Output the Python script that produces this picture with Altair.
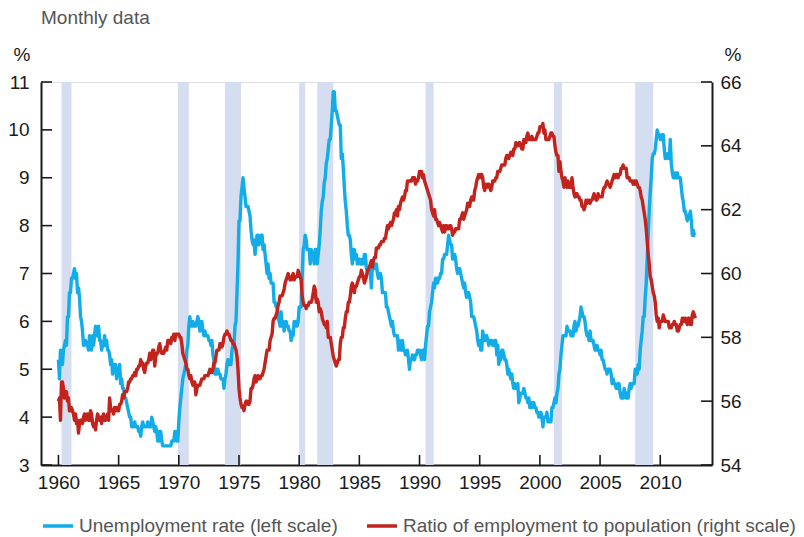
import altair as alt
import pandas as pd

years = list(range(1960, 2013))

# Unemployment rate, monthly, % (left scale)
unemp = [
    5.2, 4.8, 5.4, 5.2, 5.1, 5.4, 5.5, 5.6, 5.5, 6.1, 6.1, 6.6,   # 1960
    6.6, 6.9, 6.9, 7.0, 7.1, 6.9, 7.0, 6.6, 6.7, 6.5, 6.1, 6.0,   # 1961
    5.8, 5.5, 5.6, 5.6, 5.5, 5.5, 5.4, 5.7, 5.6, 5.4, 5.7, 5.5,   # 1962
    5.7, 5.9, 5.7, 5.7, 5.9, 5.6, 5.6, 5.4, 5.5, 5.5, 5.7, 5.5,   # 1963
    5.6, 5.4, 5.4, 5.3, 5.1, 5.2, 4.9, 5.0, 5.1, 5.1, 4.8, 5.0,   # 1964
    4.9, 5.1, 4.7, 4.8, 4.6, 4.6, 4.4, 4.4, 4.3, 4.2, 4.1, 4.0,   # 1965
    4.0, 3.8, 3.8, 3.8, 3.9, 3.8, 3.8, 3.8, 3.7, 3.7, 3.6, 3.8,   # 1966
    3.9, 3.8, 3.8, 3.8, 3.8, 3.9, 3.8, 3.8, 3.8, 4.0, 3.9, 3.8,   # 1967
    3.7, 3.8, 3.7, 3.5, 3.5, 3.7, 3.7, 3.5, 3.4, 3.4, 3.4, 3.4,   # 1968
    3.4, 3.4, 3.4, 3.4, 3.4, 3.5, 3.5, 3.5, 3.7, 3.7, 3.5, 3.5,   # 1969
    3.9, 4.2, 4.4, 4.6, 4.8, 4.9, 5.0, 5.1, 5.4, 5.5, 5.9, 6.1,   # 1970
    5.9, 5.9, 6.0, 5.9, 5.9, 5.9, 6.0, 6.1, 6.0, 5.8, 6.0, 6.0,   # 1971
    5.8, 5.7, 5.8, 5.7, 5.7, 5.7, 5.6, 5.6, 5.5, 5.6, 5.3, 5.2,   # 1972
    4.9, 5.0, 4.9, 5.0, 4.9, 4.9, 4.8, 4.8, 4.8, 4.6, 4.8, 4.9,   # 1973
    5.1, 5.2, 5.1, 5.1, 5.1, 5.4, 5.5, 5.5, 5.9, 6.0, 6.6, 7.2,   # 1974
    8.1, 8.1, 8.6, 8.8, 9.0, 8.8, 8.6, 8.4, 8.4, 8.4, 8.3, 8.2,   # 1975
    7.9, 7.7, 7.6, 7.7, 7.4, 7.6, 7.8, 7.8, 7.6, 7.7, 7.8, 7.8,   # 1976
    7.5, 7.6, 7.4, 7.2, 7.0, 7.2, 6.9, 7.0, 6.8, 6.8, 6.8, 6.4,   # 1977
    6.4, 6.3, 6.3, 6.1, 6.0, 5.9, 6.2, 5.9, 6.0, 5.8, 5.9, 6.0,   # 1978
    5.9, 5.9, 5.8, 5.8, 5.6, 5.7, 5.7, 6.0, 5.9, 6.0, 5.9, 6.0,   # 1979
    6.3, 6.3, 6.3, 6.9, 7.5, 7.6, 7.8, 7.7, 7.5, 7.5, 7.5, 7.2,   # 1980
    7.5, 7.4, 7.4, 7.2, 7.5, 7.5, 7.2, 7.4, 7.6, 7.9, 8.3, 8.5,   # 1981
    8.6, 8.9, 9.0, 9.3, 9.4, 9.6, 9.8, 9.8, 10.1, 10.4, 10.8, 10.8,  # 1982
    10.4, 10.4, 10.3, 10.2, 10.1, 10.1, 9.4, 9.5, 9.2, 8.8, 8.5, 8.3,  # 1983
    8.0, 7.8, 7.8, 7.7, 7.4, 7.2, 7.5, 7.5, 7.3, 7.4, 7.2, 7.3,   # 1984
    7.3, 7.2, 7.2, 7.3, 7.2, 7.4, 7.4, 7.1, 7.1, 7.1, 7.0, 7.0,   # 1985
    6.7, 7.2, 7.2, 7.1, 7.2, 7.2, 7.0, 6.9, 7.0, 7.0, 6.9, 6.6,   # 1986
    6.6, 6.6, 6.6, 6.3, 6.3, 6.2, 6.1, 6.0, 5.9, 6.0, 5.8, 5.7,   # 1987
    5.7, 5.7, 5.7, 5.4, 5.6, 5.4, 5.4, 5.6, 5.4, 5.4, 5.3, 5.3,   # 1988
    5.4, 5.2, 5.0, 5.2, 5.2, 5.3, 5.2, 5.2, 5.3, 5.3, 5.4, 5.4,   # 1989
    5.4, 5.3, 5.2, 5.4, 5.4, 5.2, 5.5, 5.7, 5.9, 5.9, 6.2, 6.3,   # 1990
    6.4, 6.6, 6.8, 6.7, 6.9, 6.9, 6.8, 6.9, 6.9, 7.0, 7.0, 7.3,   # 1991
    7.3, 7.4, 7.4, 7.4, 7.6, 7.8, 7.7, 7.6, 7.6, 7.3, 7.4, 7.4,   # 1992
    7.3, 7.1, 7.0, 7.1, 7.1, 7.0, 6.9, 6.8, 6.7, 6.8, 6.6, 6.5,   # 1993
    6.6, 6.6, 6.5, 6.4, 6.1, 6.1, 6.1, 6.0, 5.9, 5.8, 5.6, 5.5,   # 1994
    5.6, 5.4, 5.4, 5.8, 5.6, 5.6, 5.7, 5.7, 5.6, 5.5, 5.6, 5.6,   # 1995
    5.6, 5.5, 5.5, 5.6, 5.6, 5.3, 5.5, 5.1, 5.2, 5.2, 5.4, 5.4,   # 1996
    5.3, 5.2, 5.2, 5.1, 4.9, 5.0, 4.9, 4.8, 4.9, 4.7, 4.6, 4.7,   # 1997
    4.6, 4.6, 4.7, 4.3, 4.4, 4.5, 4.5, 4.5, 4.6, 4.5, 4.4, 4.4,   # 1998
    4.3, 4.4, 4.2, 4.3, 4.2, 4.3, 4.3, 4.2, 4.2, 4.1, 4.1, 4.0,   # 1999
    4.0, 4.1, 4.0, 3.8, 4.0, 4.0, 4.0, 4.1, 3.9, 3.9, 3.9, 3.9,   # 2000
    4.2, 4.2, 4.3, 4.4, 4.3, 4.5, 4.6, 4.9, 5.0, 5.3, 5.5, 5.7,   # 2001
    5.7, 5.7, 5.7, 5.9, 5.8, 5.8, 5.8, 5.7, 5.7, 5.7, 5.9, 6.0,   # 2002
    5.8, 5.9, 5.9, 6.0, 6.1, 6.3, 6.2, 6.1, 6.1, 6.0, 5.8, 5.7,   # 2003
    5.7, 5.6, 5.8, 5.6, 5.6, 5.6, 5.5, 5.4, 5.4, 5.5, 5.4, 5.4,   # 2004
    5.3, 5.4, 5.2, 5.2, 5.1, 5.0, 5.0, 4.9, 5.0, 5.0, 5.0, 4.9,   # 2005
    4.7, 4.8, 4.7, 4.7, 4.6, 4.6, 4.7, 4.7, 4.5, 4.4, 4.5, 4.4,   # 2006
    4.6, 4.5, 4.4, 4.5, 4.4, 4.6, 4.7, 4.6, 4.7, 4.7, 4.7, 5.0,   # 2007
    5.0, 4.9, 5.1, 5.0, 5.4, 5.6, 5.8, 6.1, 6.1, 6.5, 6.8, 7.3,   # 2008
    7.8, 8.3, 8.7, 9.0, 9.4, 9.5, 9.5, 9.6, 9.8, 10.0, 9.9, 9.9,  # 2009
    9.8, 9.8, 9.9, 9.9, 9.6, 9.4, 9.4, 9.5, 9.5, 9.4, 9.8, 9.3,   # 2010
    9.1, 9.0, 9.0, 9.1, 9.0, 9.1, 9.0, 9.0, 9.0, 8.8, 8.6, 8.5,   # 2011
    8.3, 8.3, 8.2, 8.1, 8.2, 8.2, 8.3, 8.1, 7.8, 7.9, 7.8, 7.8,   # 2012
]

# Employment-to-population ratio, monthly, % (right scale)
emp = [
    56.0, 56.1, 55.4, 56.6, 56.6, 56.4, 56.1, 56.3, 56.3, 56.0, 56.1, 55.7,  # 1960
    55.7, 55.8, 55.7, 55.6, 55.4, 55.6, 55.3, 55.4, 55.0, 55.3, 55.4, 55.4,  # 1961
    55.3, 55.5, 55.6, 55.4, 55.5, 55.6, 55.4, 55.4, 55.7, 55.6, 55.3, 55.2,  # 1962
    55.3, 55.1, 55.4, 55.6, 55.5, 55.4, 55.5, 55.3, 55.5, 55.6, 55.4, 55.4,  # 1963
    55.5, 55.6, 55.4, 56.1, 55.8, 55.7, 55.7, 55.6, 55.8, 55.7, 55.8, 55.7,  # 1964
    55.7, 55.9, 55.9, 56.0, 56.2, 56.1, 56.3, 56.3, 56.3, 56.4, 56.6, 56.6,  # 1965
    56.7, 56.7, 56.8, 56.8, 56.9, 56.8, 57.0, 57.0, 57.1, 57.1, 57.3, 57.2,  # 1966
    57.2, 57.0, 56.9, 57.1, 57.2, 57.2, 57.3, 57.5, 57.3, 57.4, 57.6, 57.6,  # 1967
    57.1, 57.4, 57.5, 57.5, 57.7, 57.8, 57.6, 57.5, 57.5, 57.5, 57.6, 57.7,  # 1968
    57.6, 57.9, 57.9, 57.9, 57.8, 58.0, 58.0, 58.1, 57.9, 58.1, 58.1, 58.1,  # 1969
    58.1, 58.0, 58.0, 57.8, 57.5, 57.4, 57.3, 57.2, 57.0, 57.0, 56.8, 56.7,  # 1970
    56.8, 56.6, 56.5, 56.6, 56.6, 56.2, 56.4, 56.5, 56.5, 56.5, 56.6, 56.7,  # 1971
    56.7, 56.7, 56.8, 56.8, 56.8, 56.8, 56.9, 57.0, 56.9, 56.9, 57.0, 57.2,  # 1972
    57.2, 57.4, 57.6, 57.6, 57.6, 57.8, 57.8, 57.7, 57.8, 58.0, 58.1, 58.1,  # 1973
    58.2, 58.1, 58.1, 58.0, 57.9, 57.9, 57.8, 57.8, 57.7, 57.6, 57.4, 57.0,  # 1974
    56.4, 56.1, 55.9, 55.8, 55.8, 55.7, 55.9, 56.0, 56.0, 55.9, 55.9, 56.0,  # 1975
    56.4, 56.4, 56.5, 56.7, 56.8, 56.6, 56.7, 56.8, 56.7, 56.7, 56.8, 56.8,  # 1976
    56.9, 57.0, 57.2, 57.4, 57.6, 57.6, 57.6, 57.9, 58.0, 58.1, 58.5, 58.6,  # 1977
    58.6, 58.7, 58.8, 59.0, 59.1, 59.3, 59.3, 59.3, 59.4, 59.5, 59.7, 59.8,  # 1978
    59.9, 60.0, 59.9, 59.8, 59.8, 59.9, 60.0, 59.8, 59.9, 59.9, 59.9, 60.1,  # 1979
    60.0, 59.9, 59.8, 59.3, 59.1, 59.0, 59.0, 58.9, 59.0, 59.0, 59.1, 59.1,  # 1980
    59.1, 59.2, 59.4, 59.6, 59.5, 59.1, 59.2, 59.1, 58.8, 58.9, 58.8, 58.6,  # 1981
    58.5, 58.4, 58.4, 58.3, 58.5, 58.0, 58.0, 58.0, 57.8, 57.6, 57.4, 57.3,  # 1982
    57.2, 57.1, 57.2, 57.3, 57.3, 57.8, 58.0, 58.0, 58.3, 58.3, 58.6, 58.8,  # 1983
    58.8, 59.1, 59.1, 59.3, 59.6, 59.7, 59.6, 59.4, 59.6, 59.6, 59.7, 59.8,  # 1984
    59.9, 59.9, 60.1, 60.0, 59.9, 59.7, 59.8, 59.9, 60.1, 60.1, 60.2, 60.3,  # 1985
    60.4, 60.2, 60.4, 60.5, 60.5, 60.8, 60.8, 60.8, 60.9, 60.9, 61.0, 61.0,  # 1986
    61.0, 61.1, 61.1, 61.3, 61.5, 61.4, 61.5, 61.6, 61.5, 61.6, 61.7, 61.9,  # 1987
    61.9, 62.0, 61.8, 62.1, 62.0, 62.2, 62.3, 62.4, 62.3, 62.4, 62.6, 62.6,  # 1988
    62.9, 62.9, 62.9, 62.9, 62.9, 63.0, 63.0, 63.0, 62.8, 62.9, 62.9, 63.0,  # 1989
    63.2, 63.2, 63.2, 63.0, 63.1, 62.9, 62.8, 62.7, 62.6, 62.5, 62.4, 62.3,  # 1990
    62.0, 61.9, 61.8, 62.0, 61.7, 61.7, 61.6, 61.5, 61.6, 61.5, 61.4, 61.3,  # 1991
    61.5, 61.3, 61.5, 61.5, 61.4, 61.4, 61.5, 61.5, 61.4, 61.2, 61.3, 61.3,  # 1992
    61.4, 61.4, 61.4, 61.4, 61.7, 61.7, 61.8, 61.9, 61.7, 61.8, 61.9, 62.0,  # 1993
    62.2, 62.1, 62.1, 62.3, 62.4, 62.3, 62.3, 62.6, 62.7, 62.9, 63.0, 63.1,  # 1994
    63.0, 63.1, 63.1, 63.0, 62.7, 62.6, 62.8, 62.7, 62.8, 62.8, 62.7, 62.6,  # 1995
    62.7, 62.9, 62.9, 62.9, 63.0, 63.0, 63.2, 63.2, 63.2, 63.3, 63.4, 63.4,  # 1996
    63.4, 63.4, 63.6, 63.7, 63.7, 63.6, 63.7, 63.8, 63.8, 63.7, 63.9, 63.9,  # 1997
    64.1, 64.0, 64.0, 64.1, 64.1, 64.0, 63.9, 63.9, 64.2, 64.1, 64.1, 64.3,  # 1998
    64.4, 64.2, 64.2, 64.2, 64.3, 64.2, 64.2, 64.2, 64.2, 64.3, 64.4, 64.4,  # 1999
    64.6, 64.6, 64.6, 64.7, 64.4, 64.5, 64.2, 64.2, 64.2, 64.2, 64.3, 64.4,  # 2000
    64.4, 64.3, 64.3, 64.0, 63.8, 63.7, 63.7, 63.2, 63.5, 63.2, 63.0, 62.9,  # 2001
    62.7, 63.0, 62.8, 62.7, 62.9, 62.7, 62.7, 62.7, 63.0, 62.7, 62.5, 62.4,  # 2002
    62.5, 62.5, 62.4, 62.4, 62.3, 62.3, 62.1, 62.1, 62.0, 62.1, 62.3, 62.2,  # 2003
    62.3, 62.3, 62.2, 62.3, 62.3, 62.4, 62.5, 62.4, 62.3, 62.3, 62.5, 62.4,  # 2004
    62.4, 62.4, 62.4, 62.6, 62.7, 62.7, 62.8, 62.9, 62.8, 62.8, 62.7, 62.8,  # 2005
    62.9, 63.0, 63.1, 63.0, 63.1, 63.1, 63.0, 63.1, 63.1, 63.3, 63.3, 63.4,  # 2006
    63.3, 63.3, 63.3, 63.0, 63.0, 63.0, 62.9, 62.9, 62.9, 62.8, 62.9, 62.8,  # 2007
    62.9, 62.8, 62.7, 62.7, 62.6, 62.4, 62.3, 62.1, 61.9, 61.7, 61.4, 61.0,  # 2008
    60.6, 60.3, 59.9, 59.8, 59.6, 59.4, 59.3, 59.1, 58.7, 58.5, 58.6, 58.3,  # 2009
    58.5, 58.5, 58.5, 58.7, 58.6, 58.5, 58.5, 58.5, 58.5, 58.3, 58.3, 58.3,  # 2010
    58.4, 58.4, 58.5, 58.4, 58.4, 58.2, 58.2, 58.3, 58.4, 58.4, 58.6, 58.6,  # 2011
    58.5, 58.6, 58.5, 58.4, 58.6, 58.6, 58.4, 58.4, 58.7, 58.8, 58.7, 58.6,  # 2012
]

# Recessions (decimal years)
rec_start = [1960.25, 1969.92, 1973.83, 1980.0, 1981.5, 1990.5, 2001.17, 2007.92]
rec_end = [1961.08, 1970.83, 1975.17, 1980.5, 1982.83, 1991.17, 2001.83, 2009.42]

x_ticks = [1960, 1965, 1970, 1975, 1980, 1985, 1990, 1995, 2000, 2005, 2010]
left_ticks = [3, 4, 5, 6, 7, 8, 9, 10, 11]
right_ticks = [54, 56, 58, 60, 62, 64, 66]

UN = "Unemployment rate (left scale)"
ER = "Ratio of employment to population (right scale)"
BLUE = "#12ADE9"
RED = "#C3231D"
BAND = "#D4DEF0"
INK = "#1a1a1a"
GREY = "#555555"
FONT = "Liberation Sans"
FS = 19

t = [y + m / 12 for y in years for m in range(12)]
df_u = pd.DataFrame({"t": t, "v": unemp, "s": UN})
df_e = pd.DataFrame({"t": t, "v": emp, "s": ER})
df_rec = pd.DataFrame({"t": rec_start, "t2": rec_end})
df_xt = pd.DataFrame({"t": x_ticks})
df_lt = pd.DataFrame({"v": left_ticks})
df_rt = pd.DataFrame({"v": right_ticks})

W, H = 671, 383

xs = alt.Scale(domain=[1958.55, 2014.3], nice=False, zero=False)
ls = alt.Scale(domain=[3, 11], nice=False, zero=False)
rs = alt.Scale(domain=[54, 66], nice=False, zero=False)

x_axis = alt.Axis(values=x_ticks, format="d", ticks=False, grid=False, title=None,
                  domainWidth=2, domainColor=INK, labelFontSize=FS, labelColor=INK,
                  labelPadding=8, labelFont=FONT)


def X(field="t"):
    return alt.X(f"{field}:Q", scale=xs, axis=x_axis)


color = alt.Color(
    "s:N",
    scale=alt.Scale(domain=[UN, ER], range=[BLUE, RED]),
    legend=alt.Legend(orient="none", legendX=0, legendY=427, direction="horizontal",
                      title=None, symbolType="stroke", symbolSize=900,
                      symbolStrokeWidth=3.5, labelFontSize=FS, labelColor=GREY,
                      labelFont=FONT, labelLimit=0, columnPadding=22, padding=0,
                      labelOffset=4),
)

bands = alt.Chart(df_rec).mark_rect(color=BAND).encode(
    x=X(), x2="t2:Q", y=alt.value(0), y2=alt.value(H)
)

blue = alt.Chart(df_u).mark_line(strokeWidth=3.4, strokeJoin="round").encode(
    x=X(),
    y=alt.Y("v:Q", scale=ls,
            axis=alt.Axis(orient="left", values=left_ticks, ticks=False, grid=False,
                          title=None, domainWidth=2, domainColor=INK, labelFontSize=FS,
                          labelColor=INK, labelPadding=12, labelFont=FONT)),
    color=color,
)

red = alt.Chart(df_e).mark_line(strokeWidth=3.4, strokeJoin="round").encode(
    x=X(),
    y=alt.Y("v:Q", scale=rs,
            axis=alt.Axis(orient="right", values=right_ticks, ticks=False, grid=False,
                          title=None, domainWidth=2, domainColor=INK, labelFontSize=FS,
                          labelColor=INK, labelPadding=8, labelFont=FONT)),
    color=color,
)

lticks = alt.Chart(df_lt).mark_rule(color=INK, strokeWidth=1.6).encode(
    y=alt.Y("v:Q", scale=ls, axis=None), x=alt.value(0), x2=alt.value(11)
)
rticks = alt.Chart(df_rt).mark_rule(color=INK, strokeWidth=1.6).encode(
    y=alt.Y("v:Q", scale=rs, axis=None), x=alt.value(W - 11), x2=alt.value(W)
)
xticks = alt.Chart(df_xt).mark_rule(color=INK, strokeWidth=1.6).encode(
    x=X(), y=alt.value(H - 10), y2=alt.value(H)
)

one = pd.DataFrame({"a": [0]})
subtitle = alt.Chart(one).mark_text(align="left", baseline="middle", fontSize=FS,
                                    color=GREY, font=FONT).encode(
    x=alt.value(0), y=alt.value(-64), text=alt.value("Monthly data"))
pct_left = alt.Chart(one).mark_text(align="center", baseline="middle", fontSize=FS,
                                    color=INK, font=FONT).encode(
    x=alt.value(-19), y=alt.value(-27), text=alt.value("%"))
pct_right = alt.Chart(one).mark_text(align="center", baseline="middle", fontSize=FS,
                                     color=INK, font=FONT).encode(
    x=alt.value(692), y=alt.value(-27), text=alt.value("%"))

chart = (
    alt.layer(bands, blue, red, lticks, rticks, xticks, subtitle, pct_left, pct_right)
    .resolve_scale(y="independent")
    .properties(width=W, height=H,
                padding={"left": 33, "top": 74, "right": 84, "bottom": 72},
                autosize=alt.AutoSizeParams(type="none"))
    .configure_view(stroke=None)
    .configure(font=FONT)
)

chart.save("out.html", embed_options={"renderer": "svg", "actions": False})
